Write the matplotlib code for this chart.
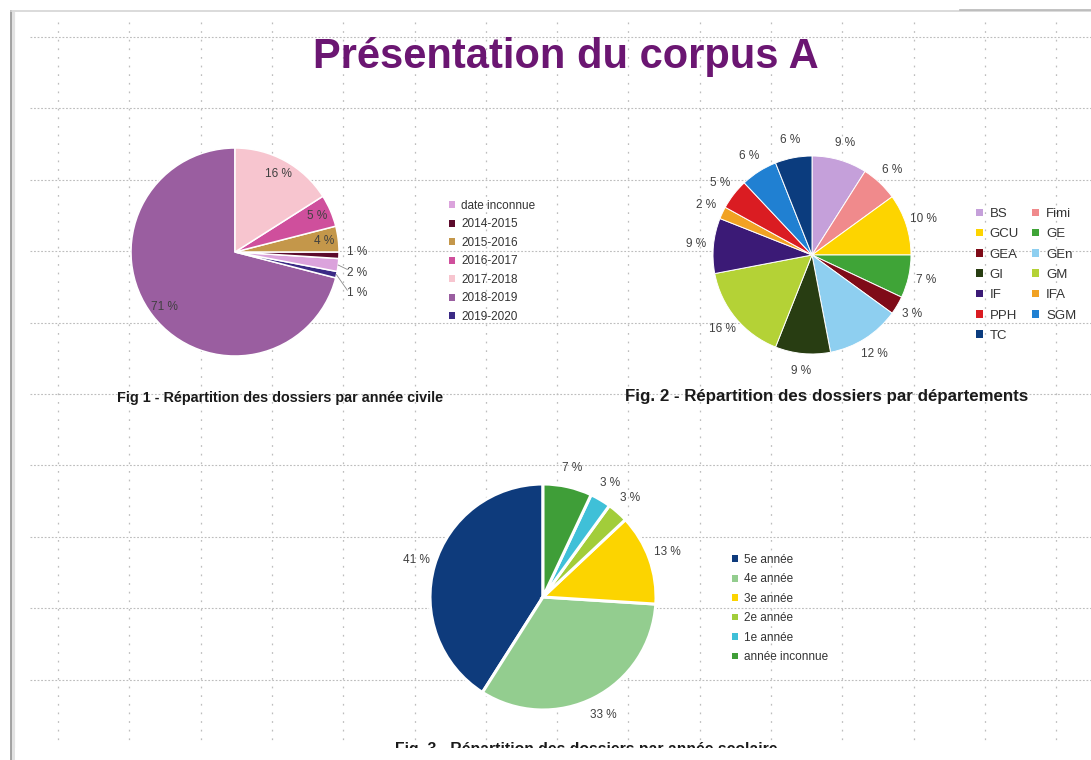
import matplotlib
matplotlib.use("Agg")
import matplotlib.pyplot as plt
import numpy as np
from matplotlib.patches import Patch, Rectangle
from matplotlib.legend import Legend

plt.rcParams['font.family'] = ['Liberation Sans', 'DejaVu Sans']

W, H, DPI = 1091, 760, 100

# ---------------- data ----------------
title = "Présentation du corpus A"

# Fig 1 : years (legend order)
year_labels = ["date inconnue", "2014-2015", "2015-2016", "2016-2017",
               "2017-2018", "2018-2019", "2019-2020"]
year_values = [2, 1, 4, 5, 16, 71, 1]
year_colors = ["#dba3dc", "#5c0b2c", "#c4974a", "#cf4f9c",
               "#f7c5cf", "#9a5ea0", "#3b2a85"]
# order of slices counter-clockwise from the top
year_slice_order = ["2018-2019", "2019-2020", "date inconnue", "2014-2015",
                    "2015-2016", "2016-2017", "2017-2018"]
caption1 = "Fig 1 - Répartition des dossiers par année civile"

# Fig 2 : departments (legend order = clockwise from top)
dept_labels = ["BS", "Fimi", "GCU", "GE", "GEA", "GEn", "GI",
               "GM", "IF", "IFA", "PPH", "SGM", "TC"]
dept_values = [9, 6, 10, 7, 3, 12, 9, 16, 9, 2, 5, 6, 6]
dept_colors = ["#c5a0da", "#f08a8c", "#fdd400", "#3fa437", "#7f0b18",
               "#8ecff0", "#283d12", "#b4d236", "#3b1a76", "#f1a223",
               "#da1c22", "#2080d2", "#0b3c7e"]
caption2 = "Fig. 2 - Répartition des dossiers par départements"

# Fig 3 : study year (legend order = counter-clockwise from top)
level_labels = ["5e année", "4e année", "3e année", "2e année",
                "1e année", "année inconnue"]
level_values = [41, 33, 13, 3, 3, 7]
level_colors = ["#0e3b7c", "#93cd8f", "#fcd400", "#a2cd3a",
                "#3fc0d8", "#3f9e38"]
caption3 = "Fig. 3 - Répartition des dossiers par année scolaire"

# ---------------- figure ----------------
fig = plt.figure(figsize=(W / DPI, H / DPI), dpi=DPI)
fig.patch.set_facecolor("white")

bg = fig.add_axes([0, 0, 1, 1])
bg.set_xlim(0, W)
bg.set_ylim(H, 0)
bg.axis("off")

# dotted slide grid
grid_c = "#bdbdbd"
ys = 37 + 71.4 * np.arange(10)
xs = 58 + 71.3 * np.arange(15)
bg.hlines(ys, 30, W, colors=grid_c, linestyles=(0, (1.6, 1.6)), lw=0.8, zorder=0)
bg.vlines(xs, 22, 743, colors=grid_c, linestyles=(0, (1.4, 5.5)), lw=0.9, zorder=0)

# slide frame
bg.plot([13, 13], [12, H], color="#e2e2e2", lw=3, zorder=1, solid_capstyle="butt")
bg.plot([11, 11], [10, H], color="#9c9c9c", lw=1.3, zorder=2, solid_capstyle="butt")
bg.plot([11, W], [10.5, 10.5], color="#d4d4d4", lw=1.2, zorder=2)
bg.plot([960, W], [9.5, 9.5], color="#b8b8b8", lw=1.2, zorder=2)

# title
bg.text(566, 68, title, ha="center", va="baseline", fontsize=30,
        fontweight="bold", color="#6b1672", zorder=5)

# captions
bg.text(117, 398, caption1, ha="left", va="center", fontsize=10.35,
        fontweight="bold", color="#1a1a1a", zorder=5)
bg.text(625, 397, caption2, ha="left", va="center", fontsize=12.2,
        fontweight="bold", color="#1a1a1a", zorder=5)
bg.text(395, 754, caption3, ha="left", va="baseline", fontsize=11.3,
        fontweight="bold", color="#1a1a1a", zorder=5)
bg.add_patch(Rectangle((15, 748), W, 20, facecolor="white", edgecolor="none", zorder=6))


def pie_axes(cx, cy, r, pad=1.4):
    h = r * pad
    ax = fig.add_axes([(cx - h) / W, (H - cy - h) / H, 2 * h / W, 2 * h / H])
    return ax, pad


def finish(ax, pad):
    ax.set_xlim(-pad, pad)
    ax.set_ylim(-pad, pad)
    ax.set_aspect("equal")
    ax.axis("off")


def add_legend(labels, colors, x, y, fs, ncol=1, labelspacing=0.4,
               columnspacing=1.0, order=None):
    handles = [Patch(facecolor=c, edgecolor="none") for c in colors]
    labs = list(labels)
    if order is not None:
        handles = [handles[i] for i in order]
        labs = [labs[i] for i in order]
    leg = Legend(bg, handles, labs, loc="upper left", bbox_to_anchor=(x, y),
                 bbox_transform=bg.transData, frameon=False, fontsize=fs,
                 handlelength=0.5, handleheight=0.5, handletextpad=0.55,
                 labelspacing=labelspacing, borderpad=0, borderaxespad=0,
                 ncol=ncol, columnspacing=columnspacing, labelcolor="#333333")
    bg.add_artist(leg)


lab_c = "#404040"

# ---------- Pie 1 ----------
ax1, pad1 = pie_axes(235, 252, 104)
idx = [year_labels.index(s) for s in year_slice_order]
v1 = [year_values[i] for i in idx]
c1 = [year_colors[i] for i in idx]
w1, _ = ax1.pie(v1, colors=c1, startangle=90, counterclock=True,
                wedgeprops=dict(edgecolor="white", linewidth=1.1))
small = []
for w, v in zip(w1, v1):
    mid = np.deg2rad((w.theta1 + w.theta2) / 2)
    if v >= 4:
        ax1.text(0.86 * np.cos(mid), 0.86 * np.sin(mid), f"{v} %",
                 ha="center", va="center", fontsize=8.5, color=lab_c)
    else:
        small.append((np.arctan2(np.sin(mid), np.cos(mid)), v))
small.sort(key=lambda t: -t[0])
prev_y = None
for k, (mid, v) in enumerate(small):
    ly = 1.2 * np.sin(mid) + 0.04
    if prev_y is not None:
        ly = min(ly, prev_y - 0.2)
    prev_y = ly
    lx = 1.17
    if k > 0:
        ax1.plot([np.cos(mid), lx - 0.09], [np.sin(mid), ly + 0.03],
                 color="#8a8a8a", lw=0.6)
    ax1.text(lx, ly, f"{v} %", ha="center", va="center", fontsize=8.5, color=lab_c)
finish(ax1, pad1)
add_legend(year_labels, year_colors, 449, 200, 8.5, labelspacing=0.55)

# ---------- Pie 2 ----------
ax2, pad2 = pie_axes(812, 255, 99)
ax2.pie(dept_values, colors=dept_colors, startangle=90, counterclock=False,
        autopct=lambda p: f"{p:.0f} %", pctdistance=1.18,
        textprops=dict(fontsize=8.5, color=lab_c),
        wedgeprops=dict(edgecolor="white", linewidth=0.7))
finish(ax2, pad2)
order2 = [0, 2, 4, 6, 8, 10, 12, 1, 3, 5, 7, 9, 11]
add_legend(dept_labels, dept_colors, 976, 208, 9.5, ncol=2,
           labelspacing=0.63, columnspacing=1.0, order=order2)

# ---------- Pie 3 ----------
ax3, pad3 = pie_axes(543, 597, 113)
ax3.pie(level_values, colors=level_colors, startangle=90, counterclock=True,
        autopct=lambda p: f"{p:.0f} %", pctdistance=1.17,
        textprops=dict(fontsize=8.5, color=lab_c),
        wedgeprops=dict(edgecolor="white", linewidth=2.2))
finish(ax3, pad3)
add_legend(level_labels, level_colors, 732, 554, 8.5, labelspacing=0.63)

fig.savefig("out.png", dpi=DPI, facecolor="white")
